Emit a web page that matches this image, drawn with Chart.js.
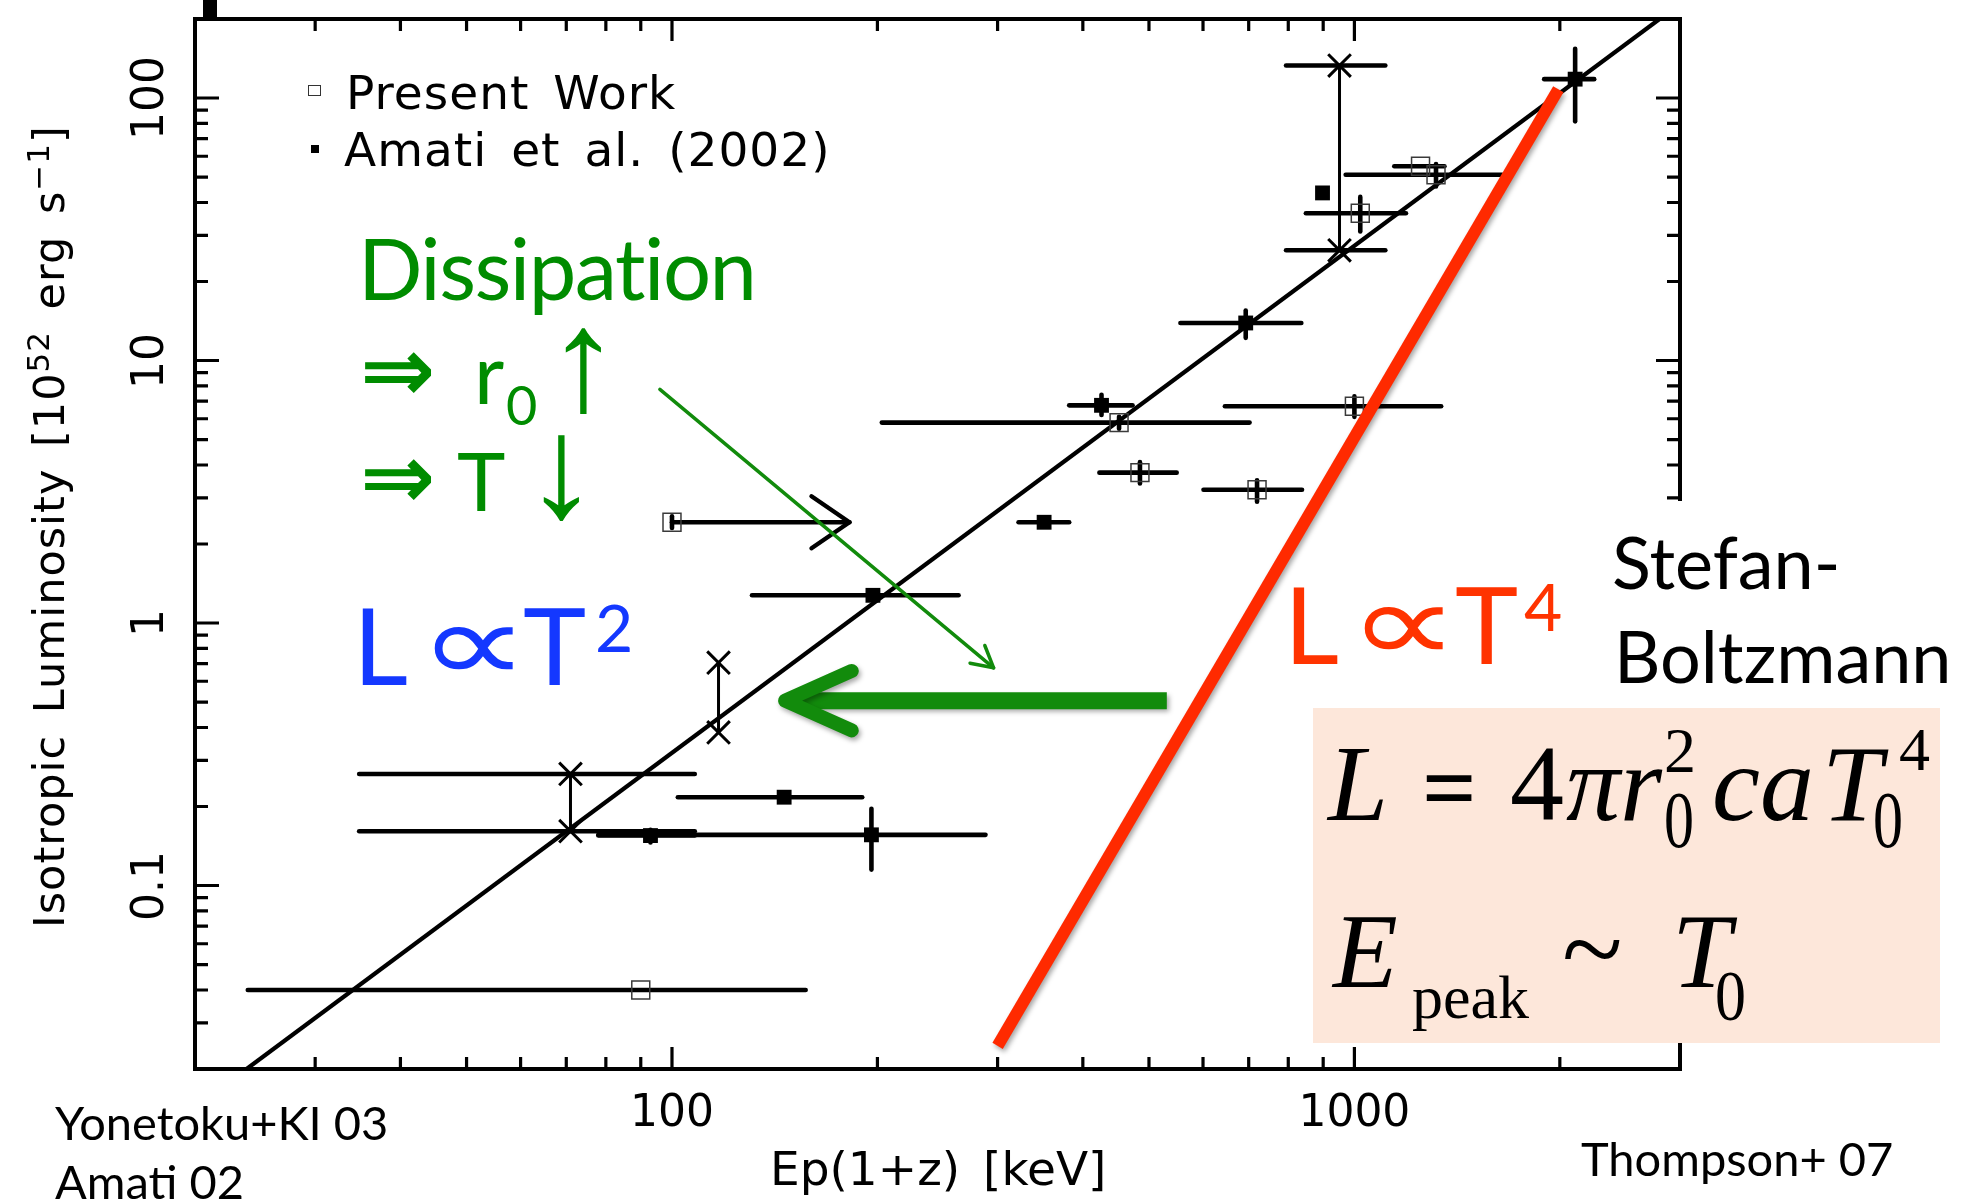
<!DOCTYPE html>
<html>
<head>
<meta charset="utf-8">
<title>Ep - Liso relation</title>
<script src="https://cdn.jsdelivr.net/npm/chart.js@4.4.1/dist/chart.umd.min.js"></script>
<style>
  html, body { margin: 0; padding: 0; background: #fff; }
  #wrap { position: relative; width: 1961px; height: 1202px; overflow: hidden; background: #fff; }
  #plot { position: absolute; left: 0; top: 0; }
  .t { position: absolute; white-space: nowrap; line-height: 1; margin: 0; padding: 0; font-variant-ligatures: none; }
  .box { position: absolute; }
</style>
</head>
<body>
<div id="wrap"><canvas id="plot" width="1961" height="1202"></canvas></div>
<script>
// ticks (log axes)
const xTicks = [20, 30, 40, 50, 60, 70, 80, 90, 100, 200, 300, 400, 500, 600, 700, 800, 900, 1000, 2000, 3000];
const yTicks = [0.02, 0.03, 0.04, 0.05, 0.06, 0.07, 0.08, 0.09, 0.1, 0.2, 0.3, 0.4, 0.5, 0.6, 0.7, 0.8, 0.9,
                1, 2, 3, 4, 5, 6, 7, 8, 9, 10, 20, 30, 40, 50, 60, 70, 80, 90, 100, 200];
const xTickLabels = ['100', '1000'];
const yTickLabels = ['0.1', '1', '10', '100'];

// Present Work (open squares)
const presentEp    = [90, 100, 452, 485, 720, 1000, 1020, 1250, 1317];
const presentL     = [0.04, 2.42, 5.8, 3.74, 3.22, 6.7, 36.4, 55, 51];
const presentEpLo  = [23.9, 100, 203, 423, 601, 646, 849, 1144, 971];
const presentEpHi  = [157, 182, 702, 549, 838, 1340, 1190, 1355, 1646];
const presentLLo   = [null, 2.3, 5.5, 3.4, 2.9, 6.1, 31, null, 46];
const presentLHi   = [null, 2.55, 6.1, 4.1, 3.5, 7.3, 42, null, 56];
const presentLimit = [0, 1, 0, 0, 0, 0, 0, 0, 0];

// Amati et al. (2002) (filled squares)
const amatiEp   = [93, 146, 196, 197, 351, 426, 693, 898, 2106];
const amatiL    = [0.155, 0.217, 0.156, 1.275, 2.42, 6.75, 13.9, 43.5, 118];
const amatiEpLo = [78, 102, 78, 131, 322, 382, 556, null, 1897];
const amatiEpHi = [108, 190, 288, 263, 382, 473, 836, null, 2246];
const amatiLLo  = [0.146, null, 0.115, null, null, 6.2, 12.2, null, 81.5];
const amatiLHi  = [0.163, null, 0.196, null, null, 7.4, 15.5, null, 154];

// luminosity ranges (crosses joined by a bar)
const rangeEp   = [71, 117, 951];
const rangeLLo  = [0.161, 0.383, 26.3];
const rangeLHi  = [0.266, 0.706, 133];
const rangeEpLo = [34.8, null, 794];
const rangeEpHi = [108, null, 1110];

// L ~ T^2 fit and L ~ T^4 line
const fitEp = [23.8, 2800];
const fitL  = [0.02, 200];
const bbEp  = [300, 1990];
const bbL   = [0.0245, 108];

// annotation arrows
const dissEp  = [96, 296];
const dissL   = [7.77, 0.675];
const shiftEp = [531, 152];
const shiftL  = [0.506, 0.506];

const GREEN = '#128b0c';
const RED = '#ff2a00';
const datasets = [];

function segment(x1, y1, x2, y2, width, extra) {
    datasets.push(Object.assign({
        type: 'line',
        data: [{ x: x1, y: y1 }, { x: x2, y: y2 }],
        borderColor: '#000',
        borderWidth: width,
        borderCapStyle: 'round',
        pointRadius: 0,
        fill: false,
        order: 3
    }, extra || {}));
}

// fit line at the bottom of the stack
segment(fitEp[0], fitL[0], fitEp[1], fitL[1], 4.2, { order: 5, borderCapStyle: 'butt' });

// error bars
presentEp.forEach((ep, i) => {
    segment(presentEpLo[i], presentL[i], presentEpHi[i], presentL[i], 4.6,
        presentLimit[i] ? { head: { len: 46, ang: 0.6, w: 4.4, color: '#000' } } : {});
    if (presentLLo[i] != null) segment(ep, presentLLo[i], ep, presentLHi[i], 4.6);
});
amatiEp.forEach((ep, i) => {
    if (amatiEpLo[i] != null) segment(amatiEpLo[i], amatiL[i], amatiEpHi[i], amatiL[i], 4.6);
    if (amatiLLo[i] != null) segment(ep, amatiLLo[i], ep, amatiLHi[i], 4.6);
});
rangeEp.forEach((ep, i) => {
    segment(ep, rangeLLo[i], ep, rangeLHi[i], 3);
    if (rangeEpLo[i] != null) {
        segment(rangeEpLo[i], rangeLLo[i], rangeEpHi[i], rangeLLo[i], 4.6);
        segment(rangeEpLo[i], rangeLHi[i], rangeEpHi[i], rangeLHi[i], 4.6);
    }
});

// markers
datasets.push({
    type: 'scatter', label: 'Present Work',
    data: presentEp.map((x, i) => ({ x, y: presentL[i] })),
    pointStyle: 'rect', pointRadius: 12.7, backgroundColor: 'rgba(0,0,0,0)',
    borderColor: '#3a3a3a', borderWidth: 1.5, order: 1
});
datasets.push({
    type: 'scatter', label: 'Amati et al. (2002)',
    data: amatiEp.map((x, i) => ({ x, y: amatiL[i] })),
    pointStyle: 'rect', pointRadius: 10.5, backgroundColor: '#000',
    borderColor: '#000', borderWidth: 0, order: 1
});
datasets.push({
    type: 'scatter', label: 'ranges',
    data: rangeEp.flatMap((x, i) => [{ x, y: rangeLLo[i] }, { x, y: rangeLHi[i] }]),
    pointStyle: 'crossRot', pointRadius: 16, borderColor: '#000', borderWidth: 3, order: 1
});

// overlays: blackbody line and green arrows
segment(bbEp[0], bbL[0], bbEp[1], bbL[1], 12, { borderColor: RED, borderCapStyle: 'butt', order: 0, shadow: true });
segment(dissEp[0], dissL[0], dissEp[1], dissL[1], 3.5,
    { borderColor: GREEN, order: 0, head: { len: 24, ang: 0.5, w: 3.5, color: GREEN } });
segment(shiftEp[0], shiftL[0], shiftEp[1], shiftL[1], 17,
    { borderColor: GREEN, borderCapStyle: 'butt', order: 0, shadow: true,
      head: { len: 73, ang: 0.42, w: 14, color: GREEN, ext: 11 } });

function isMajor(v) {
    const l = Math.log10(v);
    return Math.abs(l - Math.round(l)) < 1e-9;
}

function drawHead(ctx, p0, p1, h) {
    const a = Math.atan2(p1.y - p0.y, p1.x - p0.x);
    const ext = h.ext || 0;
    const tx = p1.x + ext * Math.cos(a), ty = p1.y + ext * Math.sin(a);
    ctx.save();
    ctx.strokeStyle = h.color;
    ctx.lineWidth = h.w;
    ctx.lineCap = 'round';
    ctx.lineJoin = 'round';
    ctx.beginPath();
    ctx.moveTo(tx - h.len * Math.cos(a - h.ang), ty - h.len * Math.sin(a - h.ang));
    ctx.lineTo(tx, ty);
    ctx.lineTo(tx - h.len * Math.cos(a + h.ang), ty - h.len * Math.sin(a + h.ang));
    ctx.stroke();
    ctx.restore();
}

// IDL style frame with inward ticks, plus shadows and arrow heads
const idlFrame = {
    id: 'idlFrame',
    beforeDatasetDraw(chart, args) {
        const ds = chart.data.datasets[args.index];
        if (ds.shadow) {
            const c = chart.ctx;
            c.save();
            c.shadowColor = 'rgba(0,0,0,0.35)';
            c.shadowBlur = 5;
            c.shadowOffsetX = 2;
            c.shadowOffsetY = 3;
        }
    },
    afterDatasetDraw(chart, args) {
        const ds = chart.data.datasets[args.index];
        if (ds.head) {
            const pts = chart.getDatasetMeta(args.index).data;
            drawHead(chart.ctx, pts[pts.length - 2], pts[pts.length - 1], ds.head);
        }
        if (ds.shadow) chart.ctx.restore();
    },
    afterDraw(chart) {
        const { ctx, chartArea: a, scales: { x, y } } = chart;
        ctx.save();
        ctx.strokeStyle = '#000';
        ctx.lineWidth = 3.2;
        ctx.beginPath();
        xTicks.forEach(v => {
            const px = x.getPixelForValue(v);
            const len = isMajor(v) ? 22 : 12;
            ctx.moveTo(px, a.bottom); ctx.lineTo(px, a.bottom - len);
            ctx.moveTo(px, a.top); ctx.lineTo(px, a.top + len);
        });
        yTicks.forEach(v => {
            const py = y.getPixelForValue(v);
            const len = isMajor(v) ? 24 : 13;
            ctx.moveTo(a.left, py); ctx.lineTo(a.left + len, py);
            ctx.moveTo(a.right, py); ctx.lineTo(a.right - len, py);
        });
        ctx.stroke();
        ctx.lineWidth = 4;
        ctx.strokeRect(a.left, a.top, a.right - a.left, a.bottom - a.top);
        ctx.restore();
    }
};

const chart = new Chart(document.getElementById('plot'), {
    type: 'scatter',
    data: { datasets },
    options: {
        responsive: false,
        animation: false,
        devicePixelRatio: 1,
        events: [],
        layout: { padding: { left: 0, top: 11, right: 281, bottom: 0 } },
        plugins: { legend: { display: false }, tooltip: { enabled: false } },
        scales: {
            x: {
                type: 'logarithmic', min: 20, max: 3000,
                ticks: { display: false },
                grid: { display: false, drawTicks: false },
                border: { display: false },
                afterFit: s => { s.height = 133; }
            },
            y: {
                type: 'logarithmic', min: 0.02, max: 200,
                ticks: { display: false },
                grid: { display: false, drawTicks: false },
                border: { display: false },
                afterFit: s => { s.width = 195; }
            }
        }
    },
    plugins: [idlFrame]
});

// ---- text and boxes on top of the canvas ----
const wrap = document.getElementById('wrap');

function box(x, y, w, h, css) {
    const d = document.createElement('div');
    d.className = 'box';
    d.style.cssText += `left:${x}px;top:${y}px;width:${w}px;height:${h}px;` + css;
    wrap.appendChild(d);
    return d;
}

function label(html, x, y, font, opt = {}) {
    const d = document.createElement('div');
    d.className = 't';
    d.style.font = font;
    if (opt.color) d.style.color = opt.color;
    if (opt.css) d.style.cssText += opt.css;
    d.innerHTML = html + '<span style="display:inline-block;width:0;height:0"></span>';
    wrap.appendChild(d);
    const base = d.lastChild.offsetTop;
    const w = d.offsetWidth;
    if (opt.rot) {
        const start = opt.align === 'center' ? y + w / 2 : y;
        d.style.left = x + 'px';
        d.style.top = (start - base) + 'px';
        d.style.transformOrigin = `0px ${base}px`;
        d.style.transform = 'rotate(-90deg)';
    } else {
        d.style.left = (opt.align === 'center' ? x - w / 2 : x) + 'px';
        d.style.top = (y - base) + 'px';
        if (opt.sx || opt.sy) {
            d.style.transformOrigin = `0px ${base}px`;
            d.style.transform = `scale(${opt.sx || 1}, ${opt.sy || 1})`;
        }
    }
    return d;
}

const IDL = "'DejaVu Sans', sans-serif";
const GILL = "Lato, 'Open Sans', sans-serif";
const SYM = "'DejaVu Sans', sans-serif";
const ARROW = "'Liberation Sans', 'DejaVu Sans', sans-serif";
const SERIF = "'Liberation Serif', 'Times New Roman', serif";

// tick labels from the scales
xTickLabels.forEach(t => label(t, chart.scales.x.getPixelForValue(Number(t)), 1126, `44px ${IDL}`, { align: 'center' }));
yTickLabels.forEach(t => label(t, 163, chart.scales.y.getPixelForValue(Number(t)), `44px ${IDL}`, { align: 'center', rot: true }));

// axis titles
label('Ep(1+z) [keV]', 938, 1185, `47px ${IDL}`, { align: 'center', css: 'word-spacing:8px;' });
label('Isotropic Luminosity [10<sup style="font-size:0.72em">52</sup> erg s<sup style="font-size:0.72em">\u22121</sup>]',
    64, 928, `43px ${IDL}`, { rot: true, css: 'letter-spacing:1px;word-spacing:7px;' });

// legend
box(308, 85, 13, 11, 'box-sizing:border-box;border:1.5px solid #333;');
box(311, 145, 8, 8, 'background:#000;');
label('Present Work', 346, 109, `47px ${IDL}`, { css: 'letter-spacing:1px;word-spacing:8px;' });
label('Amati et al. (2002)', 344, 166, `47px ${IDL}`, { css: 'letter-spacing:1px;word-spacing:8px;' });

// cropped mark at the top edge
box(203, 0, 14, 19, 'background:#000;');

// green annotations
const GT = '#008c00';
label('Dissipation', 358, 300, `85px ${GILL}`, { color: GT, css: 'letter-spacing:-1.5px;' });
label('\u21D2', 360, 401, `bold 90px ${SYM}`, { color: GT });
label('r', 474, 404, `83px ${GILL}`, { color: GT });
label('0', 506, 425, `54px ${GILL}`, { color: GT });
label('\u2191', 546, 410, `100px ${ARROW}`, { color: GT, sx: 1.5, sy: 1.45 });
label('\u21D2', 360, 508, `bold 90px ${SYM}`, { color: GT });
label('T', 457, 511, `82px ${GILL}`, { color: GT });
label('\u2193', 524, 517, `100px ${ARROW}`, { color: GT, sx: 1.5, sy: 1.45 });

// L ~ T^2 (blue)
const BLUE = '#1438ff';
label('L', 353, 685, `107px ${GILL}`, { color: BLUE });
label('\u221D', 418, 682, `113px ${SYM}`, { color: BLUE, sx: 1.38 });
label('T', 523, 685, `107px ${GILL}`, { color: BLUE });
label('2', 595, 652, `66px ${GILL}`, { color: BLUE });

// L ~ T^4 (red)
const RED_T = '#ff3300';
label('L', 1284, 664, `107px ${GILL}`, { color: RED_T });
label('\u221D', 1348, 662, `113px ${SYM}`, { color: RED_T, sx: 1.38 });
label('T', 1455, 664, `107px ${GILL}`, { color: RED_T });
label('4', 1524, 631, `66px ${GILL}`, { color: RED_T });

// Stefan-Boltzmann block
box(1598, 501, 363, 207, 'background:#fff;');
label('Stefan-', 1612, 589, `72px ${GILL}`);
label('Boltzmann', 1614, 683, `72px ${GILL}`);

box(1313, 708, 627, 335, 'background:#fde7da;');
label('<i>L</i>', 1328, 820, `108px ${SERIF}`);
label('=', 1422, 820, `bold 96px ${SERIF}`);
label('4', 1510, 820, `108px ${SERIF}`);
label('<i>\u03C0r</i>', 1566, 820, `108px ${SERIF}`);
label('2', 1664, 772, `64px ${SERIF}`);
label('0', 1664, 847, `60px ${SERIF}`, { sy: 1.35 });
label('<i>ca</i>', 1712, 820, `108px ${SERIF}`);
label('<i>T</i>', 1822, 820, `108px ${SERIF}`);
label('4', 1899, 770, `62px ${SERIF}`);
label('0', 1873, 847, `60px ${SERIF}`, { sy: 1.35 });
label('<i>E</i>', 1333, 987, `106px ${SERIF}`);
label('peak', 1412, 1018, `62px ${SERIF}`);
label('~', 1562, 987, `112px ${SERIF}`);
label('<i>T</i>', 1672, 987, `106px ${SERIF}`);
label('0', 1715, 1020, `62px ${SERIF}`, { sy: 1.15 });

// references
label('Yonetoku+KI 03', 55, 1140, `47px ${GILL}`);
label('Amati 02', 55, 1199, `47px ${GILL}`);
label('Thompson+ 07', 1581, 1176, `47px ${GILL}`);
</script>
</body>
</html>
